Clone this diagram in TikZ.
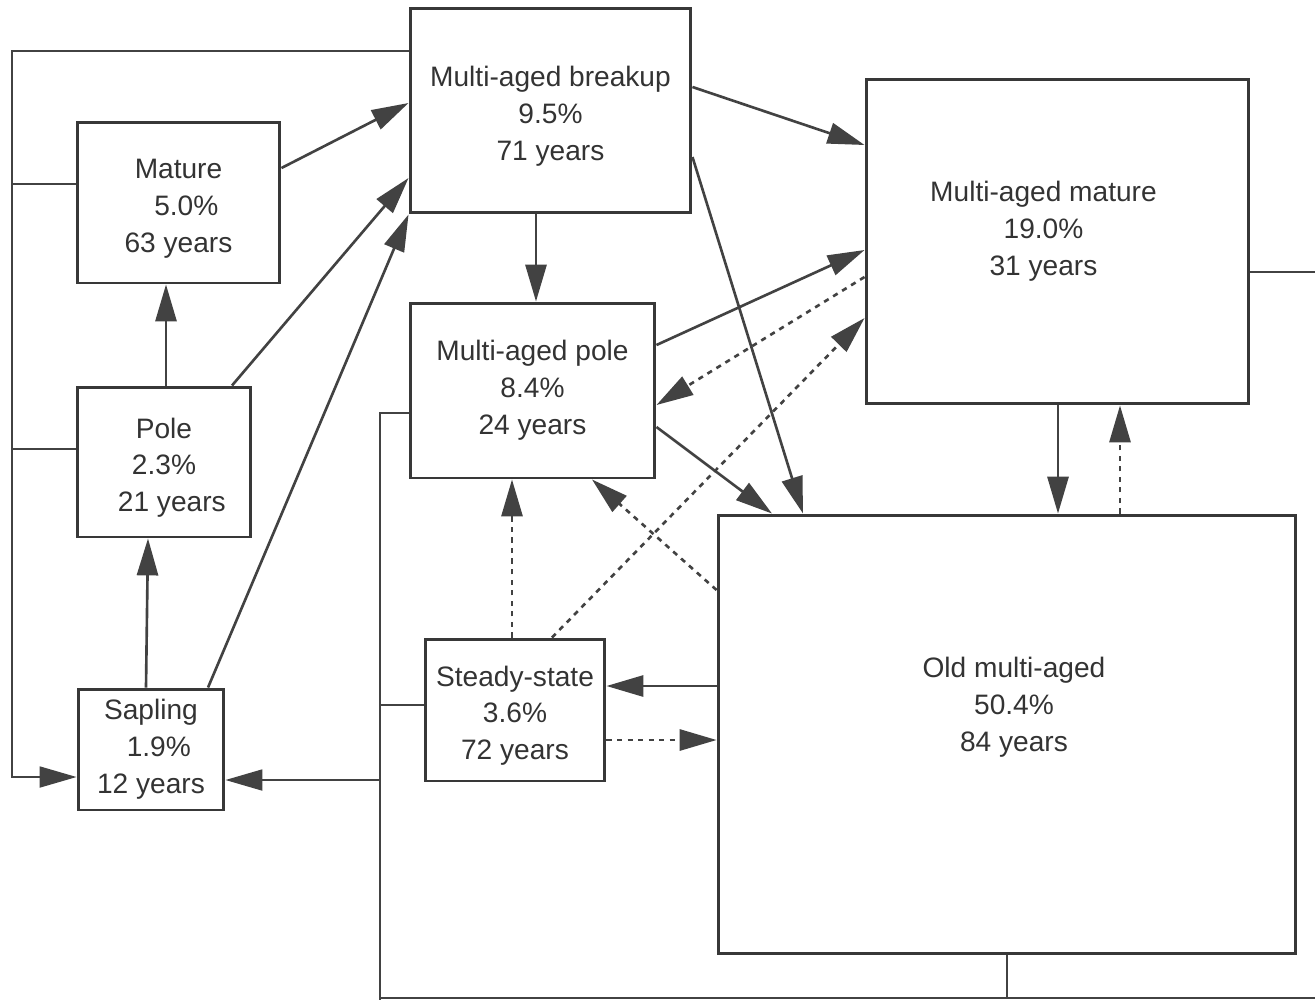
\documentclass[tikz,border=0pt]{standalone}
\usepackage{fontspec}
\setmainfont{Liberation Sans}
\usetikzlibrary{arrows.meta}
\newcommand{\boxCol}{black!78}
\newcommand{\lineCol}{black!74}
\newcommand{\textCol}{black!80}

\begin{document}
\begin{tikzpicture}[x=0.02cm,y=-0.02cm,
	txt/.style={align=center, text=\textCol, font=\fontsize{16pt}{21pt}\selectfont},
	box/.style={txt, draw=\boxCol, line width=1.7pt, inner sep=0pt},
	tip/.style={-{Triangle[length=21pt,width=12pt]}},
	flow/.style={draw=\lineCol, line width=1.5pt, tip},
	maybe/.style={flow, dash pattern=on 3pt off 3pt},
	feed/.style={draw=\lineCol, line width=0.9pt}]
	\useasboundingbox (0,0) rectangle (1315,1002);
	
	% stages
	\node[box, minimum width=5.62cm, minimum height=4.1cm] (mab) at (550.5,110.5) {\rule{0pt}{18pt}Multi-aged breakup\\9.5\%\\71 years};
	\node[box, minimum width=4.06cm, minimum height=3.22cm] (mat) at (178.5,202.5) {\rule{0pt}{18pt}Mature\\\ \ 5.0\%\\63 years};
	\node[box, minimum width=3.48cm, minimum height=3cm] (pol) at (164,462) {\rule{0pt}{18pt}Pole\\2.3\%\\\ \ 21 years};
	\node[box, minimum width=2.92cm, minimum height=2.42cm] (sap) at (151,749.5) {Sapling\\\ \ 1.9\%\\12 years};
	\node[box, minimum width=4.9cm, minimum height=3.5cm] (map) at (532.5,390.5) {Multi-aged pole\\8.4\%\\24 years};
	\node[box, minimum width=3.6cm, minimum height=2.84cm] (ss) at (515,710) {\rule{0pt}{18pt}Steady-state\\3.6\%\\72 years};
	\node[box, minimum width=7.66cm, minimum height=6.5cm,
		label={[txt, xshift=-0.28cm, yshift=0.2cm]center:{Multi-aged mature\\19.0\%\\31 years}}] (mam) at (1057.5,241.5) {};
	\node[box, minimum width=11.56cm, minimum height=8.78cm,
		label={[txt, xshift=0.14cm, yshift=0.54cm]center:{Old multi-aged\\50.4\%\\84 years}}] (oma) at (1007,734.5) {};
	
	% back to sapling
	\draw[feed, tip] (mab.west |- 0,51) -| (12,777) -- (sap.west |- 0,777);
	\draw[feed] (mat.west |- 0,184) -- (12,184);
	\draw[feed] (pol.west |- 0,449) -- (12,449);
	\draw[feed] (map.west |- 0,413) -| (380,1000);
	\draw[feed] (ss.west |- 0,705) -- (380,705);
	\draw[feed, tip] (380,780) -- (sap.east |- 0,780);
	\draw[feed] (380,998) -- (1315,998);
	\draw[feed] (oma.south -| 1007,0) -- (1007,998);
	\draw[feed] (mam.east |- 0,272) -- (1315,272);
	
	% solid transitions
	\draw[flow] (mat.east |- 0,168) -- (mab.west |- 0,103);
	\draw[flow] (pol.north -| 232,0) -- (mab.west |- 0,178);
	\draw[flow] (sap.north -| 208,0) -- (mab.south west);
	\draw[flow] (pol.north -| 166,0) -- (mat.south -| 166,0);
	\draw[flow] (sap.north -| 146,0) -- (pol.south -| 148,0);
	\draw[flow] (mab.south -| 536,0) -- (map.north -| 536,0);
	\draw[flow] (mab.east |- 0,87) -- (mam.west |- 0,145);
	\draw[flow] (mab.east |- 0,157) -- (oma.north -| 803,0);
	\draw[flow] (map.east |- 0,345) -- (mam.west |- 0,250);
	\draw[flow] (map.east |- 0,427) -- (oma.north -| 772,0);
	\draw[flow] (oma.west |- 0,686) -- (ss.east |- 0,686);
	\draw[flow] (mam.south -| 1058,0) -- (oma.north -| 1058,0);
	
	% dotted transitions
	\draw[maybe] (mam.west |- 0,277) -- (map.east |- 0,405);
	\draw[maybe] (ss.north -| 552,0) -- (mam.west |- 0,318);
	\draw[maybe] (oma.west |- 0,590) -- (map.south -| 592,0);
	\draw[maybe] (ss.north -| 512,0) -- (map.south -| 512,0);
	\draw[maybe] (ss.east |- 0,740) -- (oma.west |- 0,740);
	\draw[maybe] (oma.north -| 1120,0) -- (mam.south -| 1120,0);
\end{tikzpicture}
\end{document}
